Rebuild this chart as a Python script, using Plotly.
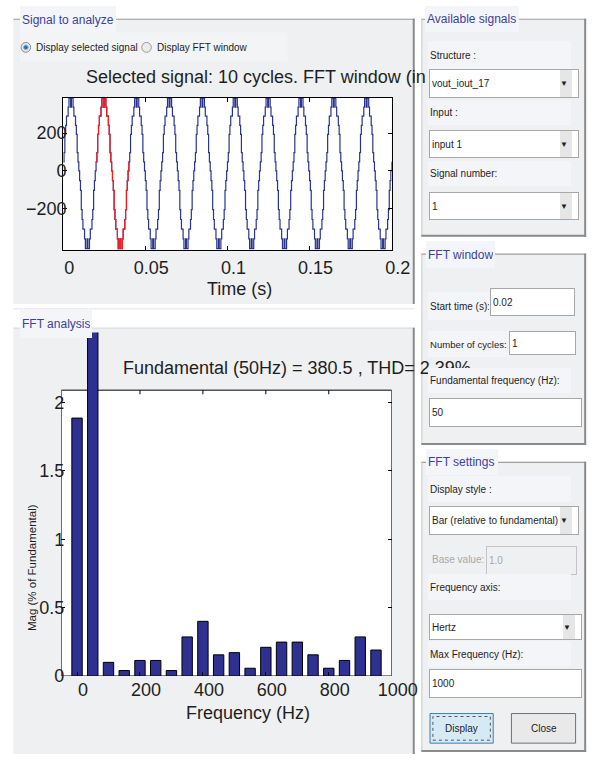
import numpy as np
import plotly.graph_objects as go

W, H = 615, 764

# ---------------- data ----------------
# one 50 Hz cycle of the staircase output voltage, one value per 0.5 ms (V)
cycle_volts = [48, 97, 193, 241, 290, 290, 338, 386, 386, 338,
               386, 386, 338, 290, 290, 241, 193, 97, 48, 0,
               -52, -103, -206, -258, -309, -309, -361, -412, -412, -361,
               -412, -412, -361, -309, -309, -258, -206, -103, -52, 0]
n_cycles = 10
sample_dt = 0.0005
fft_start = 0.02
fft_cycles = 1
f0 = 50

time_ticks = [0, 0.05, 0.1, 0.15, 0.2]
time_tick_text = ['0', '0.05', '0.1', '0.15', '0.2']
volt_ticks = [-200, 0, 200]
volt_range = [-418, 388]

fft_freq = [0, 50, 100, 150, 200, 250, 300, 350, 400, 450,
            500, 550, 600, 650, 700, 750, 800, 850, 900, 950]
fft_mag = [1.886, 100, 0.10, 0.04, 0.114, 0.114, 0.04, 0.286, 0.40, 0.155,
           0.171, 0.057, 0.21, 0.248, 0.248, 0.155, 0.057, 0.114, 0.286, 0.19]
freq_ticks = [0, 200, 400, 600, 800, 1000]
freq_range = [-50, 1000]
mag_ticks = [0, 0.5, 1, 1.5, 2]
mag_tick_text = ['0', '0.5', '1', '1.5', '2']
mag_box_top = 2.09
mag_view_top = 2.511

# ---------------- styles ----------------
AXF = 'Liberation Sans, Arial, sans-serif'
GUIF = 'Liberation Sans, Arial, sans-serif'
GS = 10
BLUE = '#28328f'
RED = '#ff1a1a'
NAVY = '#2e3192'
PANEL = '#eff0f2'
LABBG = '#f4f5f8'
TITLEC = '#3b3f9f'
TXT = '#1e1e1e'
NOLINE = 'rgba(0,0,0,0)'


def px(x):
    return x / W


def py(y):
    return 1 - y / H


signal = np.append(np.tile(cycle_volts, n_cycles), cycle_volts[0])
t = np.arange(len(signal)) * sample_dt
win = (t >= fft_start - 1e-9) & (t <= fft_start + fft_cycles / f0 + 1e-9)

fig = go.Figure()
fig.add_trace(go.Scatter(x=t, y=signal, mode='lines', xaxis='x', yaxis='y',
                         line=dict(color=BLUE, width=1.2, shape='hv'),
                         showlegend=False, hoverinfo='skip'))
fig.add_trace(go.Scatter(x=t[win], y=signal[win], mode='lines', xaxis='x', yaxis='y',
                         line=dict(color=RED, width=1.2, shape='hv'),
                         showlegend=False, hoverinfo='skip'))
fig.add_trace(go.Bar(x=fft_freq, y=fft_mag, width=33, xaxis='x2', yaxis='y2',
                     marker=dict(color=NAVY, line=dict(color='black', width=1)),
                     showlegend=False, hoverinfo='skip'))

tickf = dict(family=AXF, size=18, color=TXT)
fig.update_layout(
    width=W, height=H, margin=dict(l=0, r=0, t=0, b=0),
    paper_bgcolor='white', plot_bgcolor='rgba(0,0,0,0)', showlegend=False,
    xaxis=dict(domain=[px(66), px(409)], range=[0, 0.2], anchor='y',
               tickvals=time_ticks, ticktext=time_tick_text,
               ticks='inside', ticklen=4, tickcolor='black',
               showline=True, mirror='ticks', linecolor='black', linewidth=1,
               showgrid=False, zeroline=False, tickfont=tickf,
               ticklabelshift=6, ticklabelstandoff=2, fixedrange=True),
    yaxis=dict(domain=[py(253), py(99)], range=volt_range, anchor='x',
               tickvals=volt_ticks, ticks='inside', ticklen=4, tickcolor='black',
               showline=True, mirror='ticks', linecolor='black', linewidth=1,
               showgrid=False, zeroline=False, tickfont=tickf,
               ticklabelstandoff=-8, fixedrange=True),
    xaxis2=dict(domain=[px(64), px(409)], range=freq_range, anchor='y2',
                tickvals=freq_ticks, ticks='inside', ticklen=4, tickcolor='black',
                showline=False, showgrid=False, zeroline=False, tickfont=tickf,
                ticklabelshift=6, ticklabelstandoff=1, fixedrange=True),
    yaxis2=dict(domain=[py(685), py(337)], range=[0, mag_view_top], anchor='x2',
                tickvals=mag_ticks, ticktext=mag_tick_text,
                ticks='inside', ticklen=4, tickcolor='black', mirror='ticks',
                showline=False, showgrid=False, zeroline=False, tickfont=tickf,
                ticklabelstandoff=-4, fixedrange=True),
)

shapes = []


def rect(x0, y0, x1, y1, fill=None, line=None, lw=0, layer='below', dash=None):
    d = dict(type='rect', xref='paper', yref='paper', x0=px(x0), x1=px(x1),
             y0=py(y1), y1=py(y0), layer=layer,
             line=dict(color=line or NOLINE, width=lw))
    if dash:
        d['line']['dash'] = dash
    if fill:
        d['fillcolor'] = fill
    return d


def hline(x0, x1, y, color, lw=1):
    return dict(type='line', xref='paper', yref='paper', x0=px(x0), x1=px(x1),
                y0=py(y), y1=py(y), line=dict(color=color, width=lw), layer='below')


def vline(x, y0, y1, color, lw=1):
    return dict(type='line', xref='paper', yref='paper', x0=px(x), x1=px(x),
                y0=py(y0), y1=py(y1), line=dict(color=color, width=lw), layer='below')


# left panels
shapes += [rect(14, 19, 433, 308, fill=PANEL), hline(14, 433, 19.5, '#9c9c9c', 1.2),
           vline(432, 19, 308, '#8a8a8a', 2)]
shapes += [hline(14, 433, 313, '#e4e4e6', 1), rect(14, 332, 433, 764, fill=PANEL),
           hline(14, 433, 332.5, '#d8d8da', 1), vline(432, 332, 764, '#8a8a8a', 2)]
# right panels
for (y0, y1) in [(19, 240), (257, 451), (468, 762)]:
    shapes += [rect(440, y0, 612, y1, fill=PANEL), hline(440, 612, y0 + 0.5, '#a0a0a0', 1.2),
               vline(440.5, y0, y1, '#c8c8ca', 1), vline(611, y0, y1, '#8a8a8a', 2),
               hline(440, 612, y1 - 1, '#8a8a8a', 2)]
# radio row background and radio buttons
shapes += [rect(21, 33, 300, 62, fill='#f3f4f6')]
shapes += [dict(type='circle', xref='paper', yref='paper', x0=px(22), x1=px(32), y0=py(53), y1=py(43),
                fillcolor='#e9e9ea', line=dict(color='#8a8a8a', width=1), layer='below'),
           dict(type='circle', xref='paper', yref='paper', x0=px(24.5), x1=px(29.5), y0=py(50.5), y1=py(45.5),
                fillcolor='#2a72b5', line=dict(color='#8cc0e6', width=1), layer='below'),
           dict(type='circle', xref='paper', yref='paper', x0=px(148), x1=px(158), y0=py(53), y1=py(43),
                fillcolor='#ececed', line=dict(color='#9a9a9a', width=1), layer='below')]
# plot areas
shapes.append(dict(type='rect', xref='x domain', yref='y domain', x0=0, x1=1, y0=0, y1=1,
                   fillcolor='white', line=dict(width=0), layer='below'))
shapes.append(dict(type='rect', xref='x2', yref='y2', x0=freq_range[0], x1=freq_range[1],
                   y0=0, y1=mag_box_top, fillcolor='white',
                   line=dict(color='black', width=1), layer='below'))
for v in freq_ticks[1:-1]:
    shapes.append(dict(type='line', xref='x2', yref='y2', x0=v, x1=v, y0=mag_box_top,
                       y1=mag_box_top - 0.03, line=dict(color='black', width=1), layer='below'))
# buttons
shapes += [rect(449, 723, 515, 753, fill='#d6eaf5', line='#3c7fb1', lw=1, layer='above'),
           rect(452, 726, 512, 750, line='#555555', lw=1, layer='above', dash='dot'),
           rect(534, 723, 601, 753, fill='#e9e9e9', line='#707070', lw=1, layer='above')]

ann = []


def text(x, y, s, size=GS, color=TXT, family=GUIF, xanchor='left', angle=0):
    ann.append(dict(xref='paper', yref='paper', x=px(x), y=py(y), text=s, showarrow=False,
                    xanchor=xanchor, yanchor='middle', textangle=angle,
                    font=dict(family=family, size=size, color=color)))


def box(x0, y0, x1, y1, s=' ', fill='white', border='#a8a8a8', bw=1, size=GS,
        color=TXT, family=GUIF, pad=2):
    ann.append(dict(xref='paper', yref='paper', x=px(x0), y=py(y0), xanchor='left', yanchor='top',
                    width=(x1 - x0) - 2 * (bw + pad), height=(y1 - y0) - 2 * (bw + pad),
                    text=s, showarrow=False, align='left', valign='middle',
                    bgcolor=fill, bordercolor=border, borderwidth=bw, borderpad=pad,
                    font=dict(family=family, size=size, color=color)))


def label(x0, y0, x1, y1, s, size=GS, color=TXT, fill=LABBG):
    box(x0, y0, x1, y1, s, fill=fill, border=NOLINE, bw=0, size=size, color=color)


def dropdown(x0, y0, x1, y1, s):
    box(x0, y0, x1, y1, s)
    box(x1 - 13, y0 + 1, x1 - 1, y1 - 1, '▼', fill='#e6e6e7', border=NOLINE, bw=0,
        size=8, pad=0)


# plot titles and axis titles
text(88, 78, 'Selected signal: 10 cycles. FFT window (in red)', size=18, family=AXF)
text(126, 373, 'Fundamental (50Hz) = 380.5 , THD= 2.39%', size=18, family=AXF)
text(250, 293, 'Time (s)', size=18, family=AXF, xanchor='center')
text(259, 722, 'Frequency (Hz)', size=18, family=AXF, xanchor='center')
text(34, 575, 'Mag (% of Fundamental)', size=11.5, family=GUIF, xanchor='center', angle=-90)

# panel titles
label(21, 6, 117, 33, 'Signal to analyze', size=12, color=TITLEC)
label(21, 314, 93, 342, 'FFT analysis', size=12, color=TITLEC)
label(444, 6, 538, 32, 'Available signals', size=12, color=TITLEC)
label(445, 244, 514, 271, 'FFT window', size=12, color=TITLEC)
label(445, 455, 517, 481, 'FFT settings', size=12, color=TITLEC)

# radio labels
text(36, 48, 'Display selected signal')
text(162, 48, 'Display FFT window')

# Available signals
label(447, 42, 590, 70, 'Structure :')
dropdown(448, 70, 598, 99, 'vout_iout_17')
label(447, 101, 590, 126, 'Input :')
dropdown(448, 132, 598, 160, 'input 1')
label(447, 163, 590, 188, 'Signal number:')
dropdown(448, 195, 598, 223, '1')

# FFT window
label(447, 296, 510, 324, 'Start time (s):')
box(512, 292, 597, 320, '0.02')
label(447, 335, 529, 361, 'Number of cycles:', size=9.6)
box(531, 335, 598, 359, '1')
label(447, 373, 590, 398, 'Fundamental frequency (Hz):')
box(448, 403, 601, 432, '50')

# FFT settings
label(447, 482, 590, 508, 'Display style :')
dropdown(448, 513, 598, 542, 'Bar (relative to fundamental)')
text(449, 567, 'Base value:', color='#a8a8a8')
box(507, 553, 598, 582, '1.0', fill=PANEL, border='#c4c4c6', color='#a8a8a8')
label(447, 582, 590, 608, 'Frequency axis:')
dropdown(448, 622, 601, 648, 'Hertz')
label(447, 650, 590, 676, 'Max Frequency (Hz):')
box(448, 678, 601, 707, '1000')
text(482, 738, 'Display', xanchor='center')
text(567.5, 738, 'Close', xanchor='center')

fig.update_layout(shapes=shapes, annotations=ann)
fig.write_html('out.html')
